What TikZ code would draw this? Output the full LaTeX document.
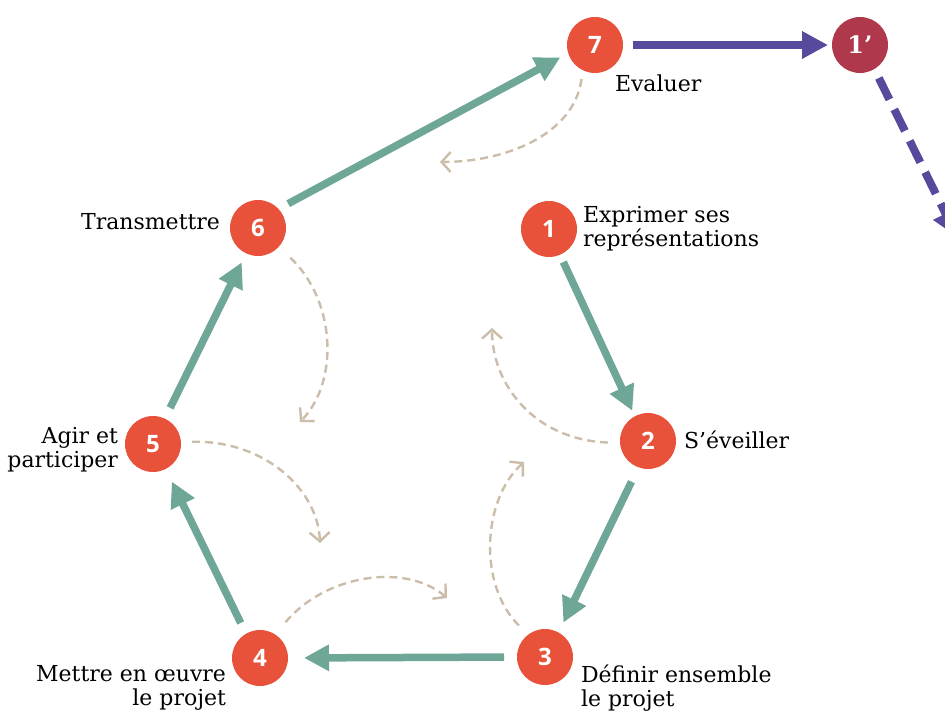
\documentclass[tikz,border=0pt]{standalone}
\usepackage{fontspec}
\setmainfont{DejaVu Serif}
\newfontfamily\numfont{Open Sans}
\usetikzlibrary{arrows.meta}
\definecolor{stepred}{HTML}{E8513A}
\definecolor{stepwine}{HTML}{B0384C}
\definecolor{flowteal}{HTML}{6EA698}
\definecolor{flowpurple}{HTML}{574A9C}
\definecolor{softbeige}{HTML}{CBBDA9}
\begin{document}
\begin{tikzpicture}[x=1pt,y=-1pt,
  num/.style={circle, fill=stepred, minimum size=56pt, inner sep=0pt, outer sep=0pt, text=white, font=\numfont\bfseries\fontsize{24}{24}\selectfont},
  lbl/.style={font=\fontsize{22}{24}\selectfont, inner sep=0pt, outer sep=0pt, text=black},
  flow/.style={draw=flowteal, line width=7.5pt, -{Triangle[length=25pt,width=25pt]}},
  purpleflow/.style={draw=flowpurple, line width=8pt, -{Triangle[length=26pt,width=26pt]}},
  soft/.style={draw=softbeige, line width=2.4pt, dash pattern=on 8pt off 5pt, -{Straight Barb[length=9pt,width=20pt,line width=2.4pt]}},
]
\useasboundingbox (0,0) rectangle (945,711);
\clip (0,0) rectangle (945,711);
% nodes
\node[num] (n7) at (595,45) {7};
\node[num, fill=stepwine, font=\bfseries\fontsize{24}{24}\selectfont] (n1p) at (860,45) {1’};
\node[num] (n1) at (549,229) {1};
\node[num] (n2) at (648,441) {2};
\node[num] (n3) at (545,657) {3};
\node[num] (n4) at (260,658) {4};
\node[num] (n5) at (153,444) {5};
\node[num] (n6) at (258,228) {6};
% labels (base anchor = last line)
\node[lbl, anchor=base west] (t7) at (615,92) {Evaluer};
\node[lbl, anchor=base west, align=left] (t1) at (583,247) {Exprimer ses\\représentations};
\node[lbl, anchor=base west] (t2) at (684,448) {S’éveiller};
\node[lbl, anchor=base west, align=left] (t3) at (581,706) {Définir ensemble\\le projet};
\node[lbl, anchor=base east, align=right] (t4) at (226,705) {Mettre en œuvre\\le projet};
\node[lbl, anchor=base east, align=right] (t5) at (118,467) {Agir et\\participer};
\node[lbl, anchor=base east] (t6) at (220,230) {Transmettre};
% main cycle
\draw[flow, shorten <=11pt, shorten >=9pt] (n6.43) -- (n7.197);
\draw[flow, shorten <=8pt, shorten >=6pt] (n1.293) -- (n2.118);
\draw[flow, shorten <=16pt, shorten >=11pt] (n2.250) -- (n3.61);
\draw[flow, shorten <=13pt, shorten >=16pt] (n3.180) -- (n4.0);
\draw[flow, shorten <=12pt, shorten >=14pt] (n4.120) -- (n5.297);
\draw[flow, shorten <=12pt, shorten >=10pt] (n5.65) -- (n6.245);
% purple
\draw[purpleflow, shorten <=10pt, shorten >=4pt] (n7.east) -- (n1p.west);
\coordinate (out) at (957,237);
\draw[purpleflow, dash pattern=on 24pt off 11pt, shorten <=10pt] (n1p.301) -- (out);
% soft dashed
\coordinate (s7) at (440,162);
\coordinate (s6) at (300,422);
\coordinate (s5) at (320,543);
\coordinate (s4) at (447,598);
\coordinate (s3) at (524,462);
\coordinate (s2) at (492,328);
\draw[soft, shorten <=9pt] (n7.244) .. controls (574,135) and (505,162) .. (s7);
\draw[soft, shorten <=16pt] (n6.318) .. controls (335,300) and (340,380) .. (s6);
\draw[soft, shorten <=11pt] (n5.4) .. controls (265,440) and (318,490) .. (s5);
\draw[soft, shorten <=16pt] (n4.57) .. controls (325,575) and (405,562) .. (s4);
\draw[soft, shorten <=13pt] (n3.127) .. controls (478,585) and (482,500) .. (s3);
\draw[soft, shorten <=12pt] (n2.184) .. controls (535,440) and (492,385) .. (s2);
\end{tikzpicture}
\end{document}
